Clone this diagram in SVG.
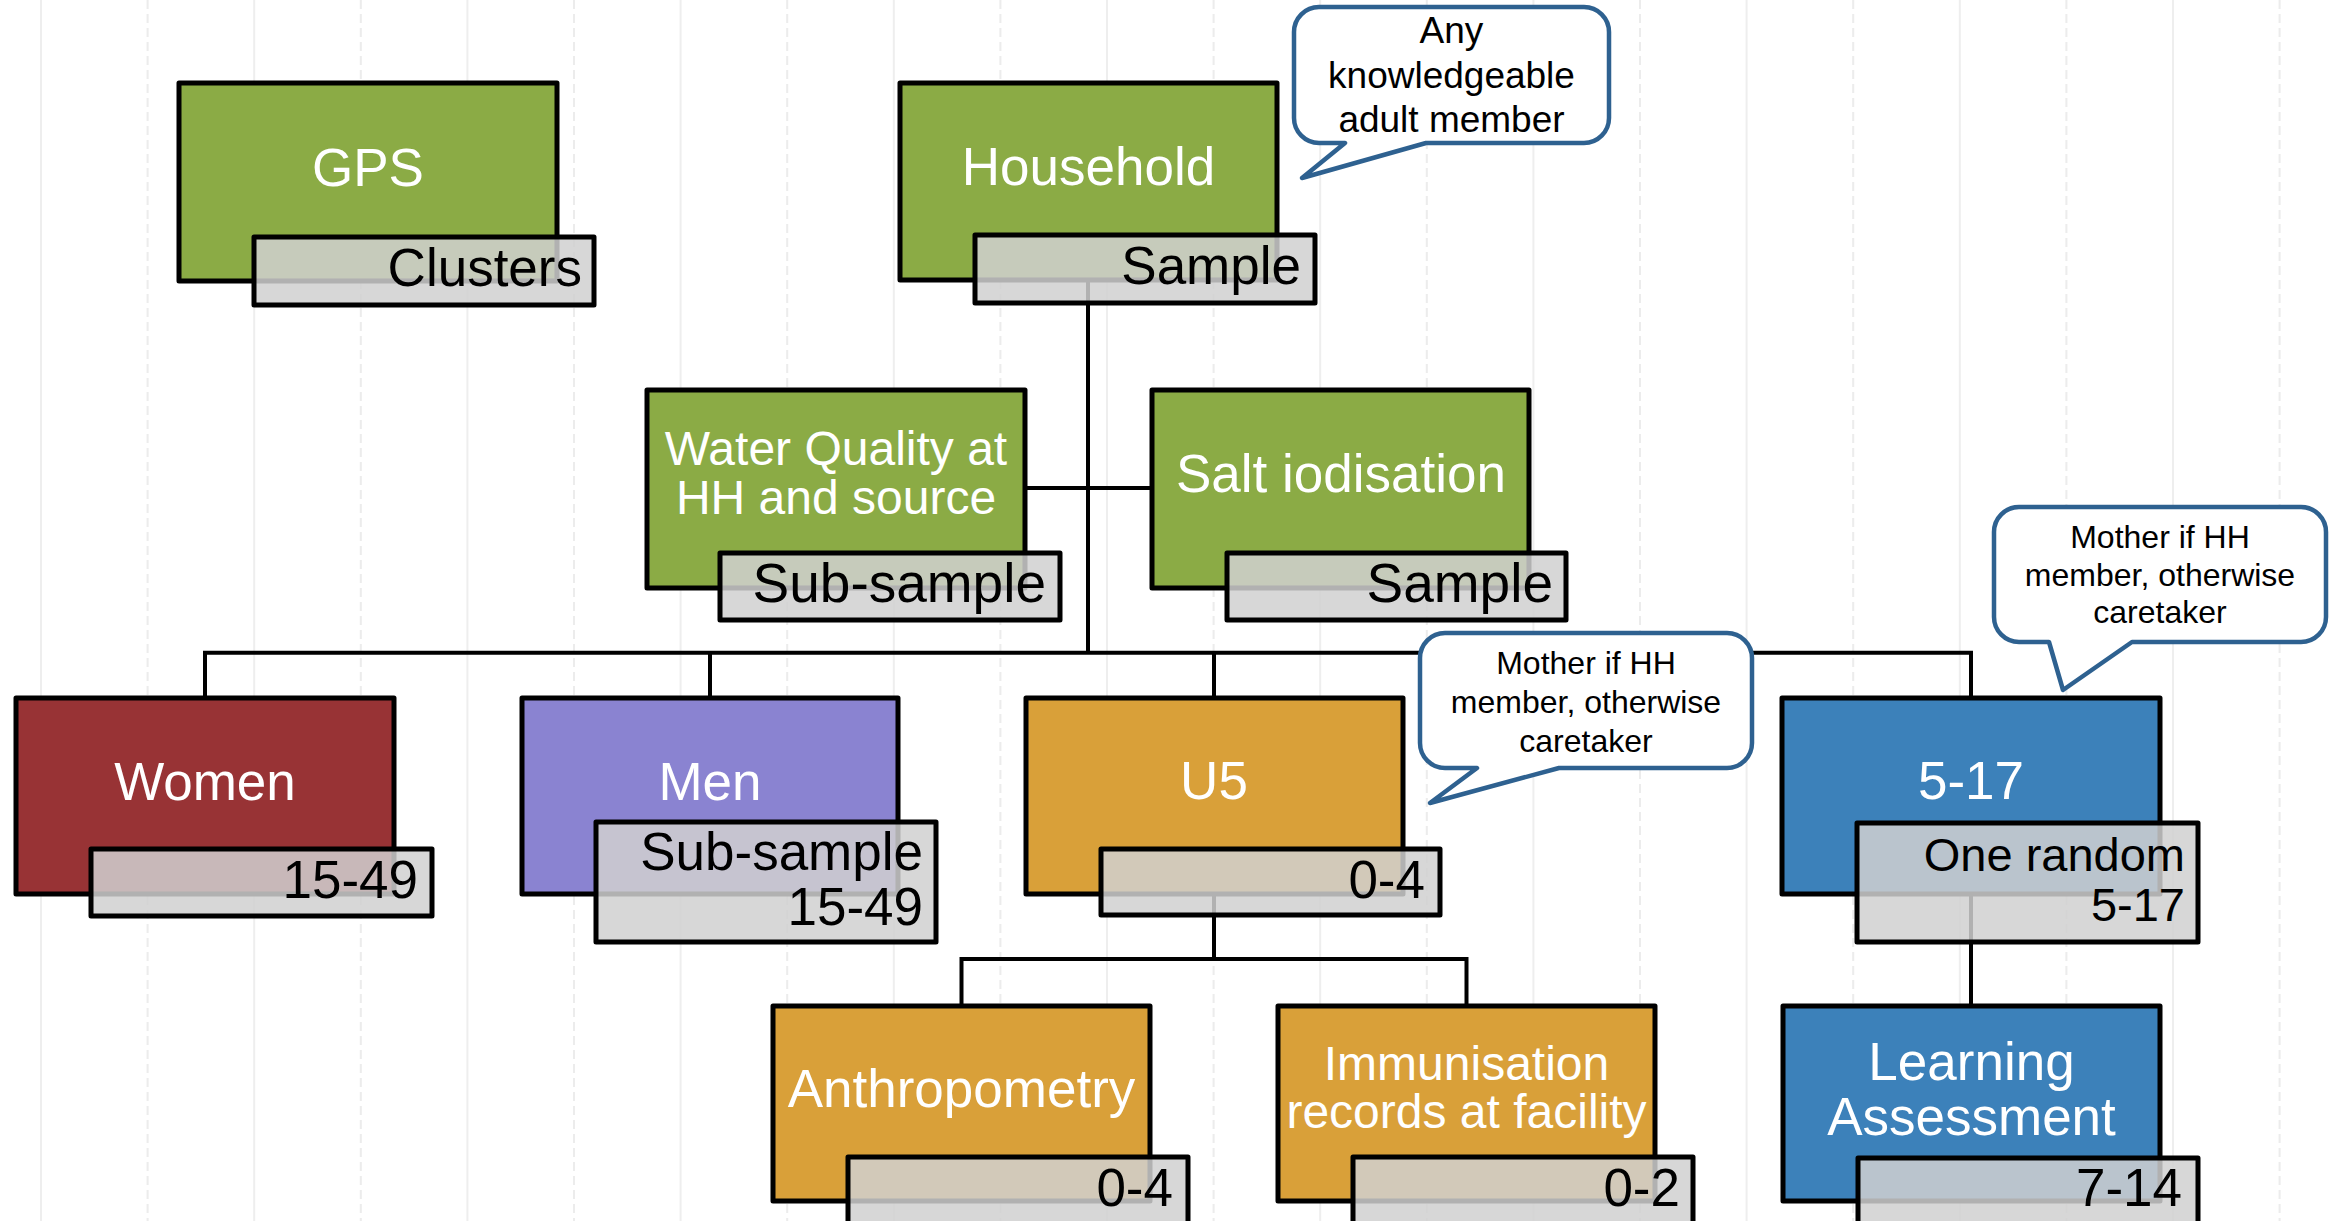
<svg xmlns="http://www.w3.org/2000/svg" width="2333" height="1221" viewBox="0 0 2333 1221">
<style>
text{font-family:"Liberation Sans",Arial,sans-serif}
.g1{stroke:#eeeeee;stroke-width:2}
.g2{stroke:#ececec;stroke-width:2;stroke-dasharray:9 5}
.box{stroke:#000;stroke-width:5;stroke-linejoin:round}
.lab{fill:#d0d0d0;fill-opacity:0.85;stroke:#000;stroke-width:5;stroke-linejoin:round}
.green{fill:#8BAB45}.red{fill:#983335}.purple{fill:#8A83D1}.orange{fill:#D9A039}.blue{fill:#3C81BA}
.mt{fill:#fff;font-size:53px;text-anchor:middle}
.mt48{fill:#fff;font-size:48px;text-anchor:middle}
.lt{fill:#000;font-size:53px;text-anchor:end}
.conn{stroke:#000;stroke-width:4;fill:none}
.bub{fill:#fff;stroke:#2E6190;stroke-width:4.5;stroke-linejoin:round}
.bt{fill:#000;text-anchor:middle}
</style>
<rect width="2333" height="1221" fill="#fff"/>
<g id="grid">
<line class="g1" x1="41" y1="0" x2="41" y2="1221"/>
<line class="g1" x1="254.2" y1="0" x2="254.2" y2="1221"/>
<line class="g1" x1="467.4" y1="0" x2="467.4" y2="1221"/>
<line class="g1" x1="680.6" y1="0" x2="680.6" y2="1221"/>
<line class="g1" x1="893.8" y1="0" x2="893.8" y2="1221"/>
<line class="g1" x1="1107" y1="0" x2="1107" y2="1221"/>
<line class="g1" x1="1320.2" y1="0" x2="1320.2" y2="1221"/>
<line class="g1" x1="1533.4" y1="0" x2="1533.4" y2="1221"/>
<line class="g1" x1="1746.6" y1="0" x2="1746.6" y2="1221"/>
<line class="g1" x1="1959.8" y1="0" x2="1959.8" y2="1221"/>
<line class="g1" x1="2173" y1="0" x2="2173" y2="1221"/>
<line class="g2" x1="147.6" y1="0" x2="147.6" y2="1221"/>
<line class="g2" x1="360.8" y1="0" x2="360.8" y2="1221"/>
<line class="g2" x1="574" y1="0" x2="574" y2="1221"/>
<line class="g2" x1="787.2" y1="0" x2="787.2" y2="1221"/>
<line class="g2" x1="1000.4" y1="0" x2="1000.4" y2="1221"/>
<line class="g2" x1="1213.6" y1="0" x2="1213.6" y2="1221"/>
<line class="g2" x1="1426.8" y1="0" x2="1426.8" y2="1221"/>
<line class="g2" x1="1640" y1="0" x2="1640" y2="1221"/>
<line class="g2" x1="1853.2" y1="0" x2="1853.2" y2="1221"/>
<line class="g2" x1="2066.4" y1="0" x2="2066.4" y2="1221"/>
<line class="g2" x1="2279.6" y1="0" x2="2279.6" y2="1221"/>
</g>
<g id="connectors">
<path class="conn" d="M1088 200 V652.7"/>
<path class="conn" d="M836 488 H1341"/>
<path class="conn" d="M205 698 V652.7 H1971 V698"/>
<path class="conn" d="M710 652.7 V698"/>
<path class="conn" d="M1214 652.7 V698"/>
<path class="conn" d="M1214 800 V959"/>
<path class="conn" d="M961.5 1006 V959 H1466.5 V1006"/>
<path class="conn" d="M1971 800 V1006"/>
</g>
<g id="gps">
<rect class="box green" x="179" y="83" width="378" height="198"/>
<text class="mt" x="368" y="186">GPS</text>
<rect class="lab" x="254" y="237" width="340" height="68"/>
<text class="lt" x="582" y="286">Clusters</text>
</g>
<g id="household">
<rect class="box green" x="900" y="83" width="377" height="197"/>
<text class="mt" x="1088.5" y="185">Household</text>
<rect class="lab" x="975" y="235" width="340" height="68"/>
<text class="lt" x="1301" y="284">Sample</text>
</g>
<g id="water">
<rect class="box green" x="647" y="390" width="378" height="198"/>
<text class="mt48" x="836" y="465">Water Quality at</text>
<text class="mt48" x="836" y="514">HH and source</text>
<rect class="lab" x="720" y="553" width="340" height="67"/>
<text class="lt" x="1046" y="602" style="font-size:55px">Sub-sample</text>
</g>
<g id="salt">
<rect class="box green" x="1152" y="390" width="377" height="198"/>
<text class="mt" x="1341" y="492">Salt iodisation</text>
<rect class="lab" x="1227" y="553" width="339" height="67"/>
<text class="lt" x="1553" y="602" style="font-size:55px">Sample</text>
</g>
<g id="women">
<rect class="box red" x="16" y="698" width="378" height="196"/>
<text class="mt" x="205" y="800">Women</text>
<rect class="lab" x="91" y="849" width="341" height="67"/>
<text class="lt" x="418" y="898">15-49</text>
</g>
<g id="men">
<rect class="box purple" x="522" y="698" width="376" height="196"/>
<text class="mt" x="710" y="800">Men</text>
<rect class="lab" x="596" y="822" width="340" height="120"/>
<text class="lt" x="923" y="870">Sub-sample</text>
<text class="lt" x="923" y="925">15-49</text>
</g>
<g id="u5">
<rect class="box orange" x="1026" y="698" width="377" height="196"/>
<text class="mt" x="1214" y="799">U5</text>
<rect class="lab" x="1101" y="849" width="339" height="66"/>
<text class="lt" x="1425" y="898">0-4</text>
</g>
<g id="age517">
<rect class="box blue" x="1782" y="698" width="378" height="196"/>
<text class="mt" x="1971" y="799">5-17</text>
<rect class="lab" x="1857" y="823" width="341" height="119"/>
<text class="lt" x="2185" y="871" style="font-size:47px">One random</text>
<text class="lt" x="2185" y="921" style="font-size:47px">5-17</text>
</g>
<g id="anthropometry">
<rect class="box orange" x="773" y="1006" width="377" height="195"/>
<text class="mt" x="961.5" y="1107">Anthropometry</text>
<rect class="lab" x="848" y="1157" width="340" height="68"/>
<text class="lt" x="1173" y="1206">0-4</text>
</g>
<g id="immunisation">
<rect class="box orange" x="1278" y="1006" width="377" height="195"/>
<text class="mt48" x="1466.5" y="1080">Immunisation</text>
<text class="mt48" x="1466.5" y="1128">records at facility</text>
<rect class="lab" x="1353" y="1157" width="340" height="68"/>
<text class="lt" x="1680" y="1206">0-2</text>
</g>
<g id="learning">
<rect class="box blue" x="1783" y="1006" width="377" height="195"/>
<text class="mt" x="1971.5" y="1080">Learning</text>
<text class="mt" x="1971.5" y="1135">Assessment</text>
<rect class="lab" x="1858" y="1158" width="340" height="68"/>
<text class="lt" x="2182" y="1206">7-14</text>
</g>
<g id="callout-household">
<path class="bub" d="M1319 7 H1584 A25 25 0 0 1 1609 32 V118 A25 25 0 0 1 1584 143 H1426 L1302 178 L1345 143 H1319 A25 25 0 0 1 1294 118 V32 A25 25 0 0 1 1319 7 Z"/>
<text class="bt" x="1451.5" y="43" style="font-size:37px">Any</text>
<text class="bt" x="1451.5" y="88" style="font-size:37px">knowledgeable</text>
<text class="bt" x="1451.5" y="132" style="font-size:37px">adult member</text>
</g>
<g id="callout-u5">
<path class="bub" d="M1445 633 H1727 A25 25 0 0 1 1752 658 V743 A25 25 0 0 1 1727 768 H1559 L1430 803 L1477 768 H1445 A25 25 0 0 1 1420 743 V658 A25 25 0 0 1 1445 633 Z"/>
<text class="bt" x="1586" y="674" style="font-size:32px">Mother if HH</text>
<text class="bt" x="1586" y="713" style="font-size:32px">member, otherwise</text>
<text class="bt" x="1586" y="752" style="font-size:32px">caretaker</text>
</g>
<g id="callout-517">
<path class="bub" d="M2019 507 H2301 A25 25 0 0 1 2326 532 V617 A25 25 0 0 1 2301 642 H2132 L2063 690 L2049 642 H2019 A25 25 0 0 1 1994 617 V532 A25 25 0 0 1 2019 507 Z"/>
<text class="bt" x="2160" y="548" style="font-size:32px">Mother if HH</text>
<text class="bt" x="2160" y="586" style="font-size:32px">member, otherwise</text>
<text class="bt" x="2160" y="623" style="font-size:32px">caretaker</text>
</g>
</svg>
